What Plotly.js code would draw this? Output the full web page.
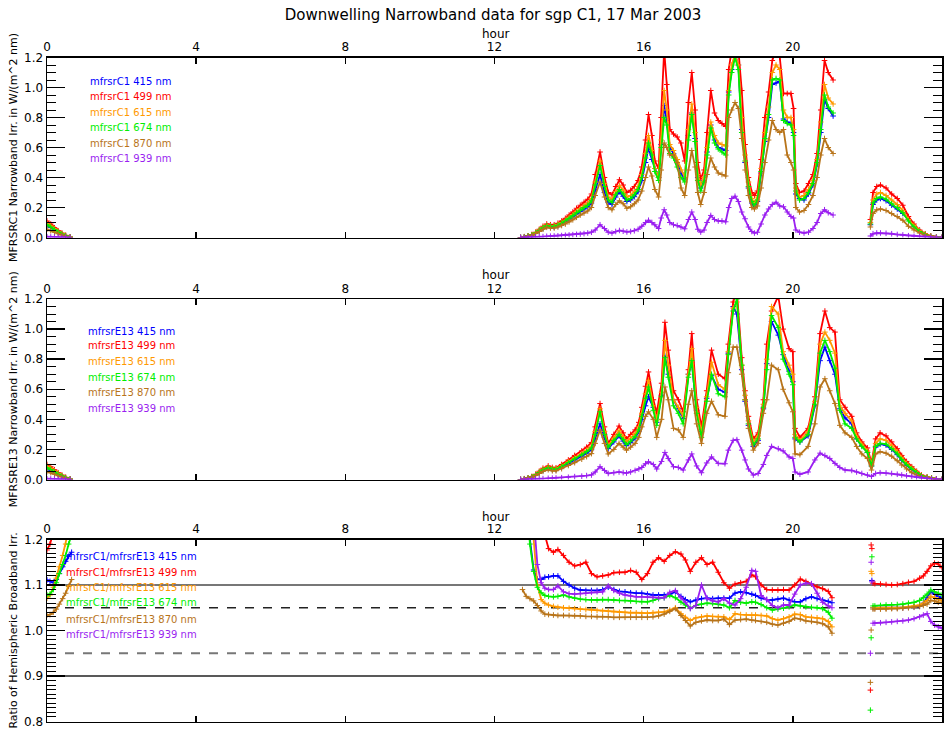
<!DOCTYPE html>
<html>
<head>
<meta charset="utf-8">
<script src="https://cdn.plot.ly/plotly-3.0.1.min.js"></script>
<style>html,body{margin:0;padding:0;background:#fff;}#chart{width:947px;height:730px;}</style>
</head>
<body>
<div id="chart"></div>
<script>
// ---------------- DATA ----------------
const wavelengths = ['415', '499', '615', '674', '870', '939'];
const seriesColors = ['#0000ff', '#ff0000', '#ff9900', '#00ee00', '#b8741a', '#9a1ff0'];
const xTicks = [0, 4, 8, 12, 16, 20, 24];
const refLevels = [1.1, 1.05, 0.95, 0.9];

// Panel 1: MFRSR C1 narrowband irradiance (segments separated by null)
const hoursC1 = [
  0.0, 0.1, 0.2, 0.3, 0.4, 0.5, 0.62, null,
  12.7, 12.8, 12.9, 13.0, 13.1, 13.2, 13.3, 13.4, 13.5, 13.6,
  13.7, 13.8, 13.9, 14.0, 14.1, 14.2, 14.3, 14.4, 14.5, 14.6,
  14.7, 14.83, 14.95, 15.05, 15.15, 15.25, 15.35, 15.45, 15.55, 15.65,
  15.75, 15.85, 15.95, 16.05, 16.13, 16.22, 16.3, 16.4, 16.47, 16.55,
  16.62, 16.7, 16.8, 16.9, 17.0, 17.1, 17.2, 17.29, 17.38, 17.45,
  17.53, 17.62, 17.7, 17.8, 17.9, 18.0, 18.1, 18.2, 18.28, 18.36,
  18.45, 18.54, 18.63, 18.72, 18.81, 18.9, 18.97, 19.05, 19.15, 19.25,
  19.35, 19.45, 19.55, 19.65, 19.75, 19.85, 19.95, 20.02, 20.08, 20.18,
  20.3, 20.42, 20.54, 20.65, 20.75, 20.85, 20.95, 21.08, null,
  22.08, 22.15, 22.25, 22.35, 22.5, 22.65, 22.8, 22.95, 23.1, 23.25, 23.4, 23.55, 23.7, 23.85, 24.0
];
const c1_415 = [
  0.08, 0.066, 0.05, 0.034, 0.022, 0.011, 0.002, null,
  0, 0.004, 0.008, 0.016, 0.028, 0.045, 0.06, 0.075, 0.07, 0.07,
  0.078, 0.09, 0.105, 0.122, 0.138, 0.158, 0.175, 0.19, 0.205, 0.23,
  0.32, 0.42, 0.3, 0.235, 0.22, 0.27, 0.305, 0.275, 0.24, 0.25,
  0.272, 0.305, 0.38, 0.5, 0.6, 0.52, 0.46, 0.4, 0.62, 0.88,
  0.78, 0.6, 0.56, 0.5, 0.43, 0.39, 0.68, 0.83, 0.66, 0.4,
  0.33, 0.38, 0.57, 0.75, 0.65, 0.6, 0.59, 0.58, 0.97, 1.12,
  1.22, 1.15, 0.72, 0.5, 0.33, 0.23, 0.2, 0.24, 0.43, 0.64,
  0.8, 1.02, 1.03, 1.04, 0.79, 0.77, 0.76, 0.7, 0.29, 0.26,
  0.25, 0.29, 0.35, 0.49, 0.7, 0.92, 0.86, 0.81, null,
  0.085, 0.22, 0.25, 0.26, 0.245, 0.215, 0.19, 0.16, 0.12, 0.075, 0.043, 0.02, 0.007, 0.002, 0
];
const c1_499 = [
  0.11, 0.09, 0.065, 0.045, 0.03, 0.015, 0.003, null,
  0, 0.005, 0.01, 0.02, 0.035, 0.055, 0.075, 0.09, 0.085, 0.085,
  0.095, 0.11, 0.128, 0.15, 0.17, 0.195, 0.215, 0.235, 0.255, 0.29,
  0.42, 0.57, 0.4, 0.3, 0.285, 0.34, 0.385, 0.35, 0.3, 0.315,
  0.34, 0.38, 0.47, 0.65, 0.82, 0.68, 0.51, 0.46, 0.8, 1.25,
  1.02, 0.72, 0.69, 0.67, 0.63, 0.51, 0.9, 1.1, 0.85, 0.5,
  0.39, 0.45, 0.7, 0.98, 0.83, 0.78, 0.76, 0.74, 1.12, 1.25,
  1.3, 1.25, 0.98, 0.62, 0.4, 0.3, 0.28, 0.31, 0.52, 0.8,
  0.97, 1.18, 1.25, 1.2, 0.96, 0.96, 0.96, 0.86, 0.36, 0.3,
  0.31, 0.36, 0.42, 0.56, 0.85, 1.18, 1.1, 1.05, null,
  0.12, 0.3, 0.34, 0.35, 0.33, 0.29, 0.26, 0.215, 0.14, 0.09, 0.05, 0.025, 0.01, 0.003, 0
];
const c1_615 = [
  0.095, 0.078, 0.058, 0.04, 0.026, 0.013, 0.003, null,
  0, 0.005, 0.01, 0.018, 0.032, 0.05, 0.068, 0.082, 0.078, 0.078,
  0.087, 0.1, 0.115, 0.135, 0.153, 0.175, 0.193, 0.21, 0.228, 0.26,
  0.37, 0.51, 0.36, 0.27, 0.255, 0.305, 0.345, 0.315, 0.27, 0.28,
  0.305, 0.34, 0.42, 0.56, 0.68, 0.58, 0.46, 0.4, 0.65, 0.98,
  0.85, 0.62, 0.58, 0.52, 0.45, 0.4, 0.72, 0.89, 0.7, 0.42,
  0.35, 0.4, 0.6, 0.77, 0.68, 0.63, 0.62, 0.61, 0.98, 1.15,
  1.22, 1.15, 0.8, 0.55, 0.37, 0.26, 0.23, 0.27, 0.46, 0.7,
  0.87, 1.1, 1.15, 1.12, 0.85, 0.8, 0.8, 0.72, 0.33, 0.27,
  0.28, 0.32, 0.38, 0.52, 0.77, 1.02, 0.93, 0.89, null,
  0.1, 0.25, 0.29, 0.3, 0.28, 0.25, 0.22, 0.18, 0.12, 0.08, 0.045, 0.022, 0.008, 0.002, 0
];
const c1_674 = [
  0.085, 0.07, 0.052, 0.036, 0.023, 0.012, 0.002, null,
  0, 0.005, 0.01, 0.017, 0.03, 0.048, 0.065, 0.078, 0.074, 0.074,
  0.082, 0.095, 0.11, 0.128, 0.145, 0.165, 0.182, 0.2, 0.215, 0.245,
  0.35, 0.48, 0.34, 0.25, 0.235, 0.285, 0.32, 0.29, 0.25, 0.26,
  0.285, 0.32, 0.4, 0.53, 0.63, 0.55, 0.44, 0.38, 0.6, 0.8,
  0.75, 0.56, 0.53, 0.47, 0.4, 0.37, 0.65, 0.82, 0.64, 0.38,
  0.31, 0.37, 0.55, 0.73, 0.63, 0.59, 0.57, 0.55, 0.95, 1.1,
  1.2, 1.12, 0.7, 0.51, 0.34, 0.24, 0.21, 0.25, 0.44, 0.66,
  0.82, 1.05, 1.06, 1.05, 0.78, 0.76, 0.75, 0.68, 0.31, 0.25,
  0.26, 0.3, 0.36, 0.5, 0.72, 0.95, 0.87, 0.83, null,
  0.09, 0.23, 0.26, 0.27, 0.255, 0.225, 0.2, 0.165, 0.11, 0.07, 0.04, 0.02, 0.007, 0.002, 0
];
const c1_870 = [
  0.055, 0.045, 0.035, 0.025, 0.016, 0.008, 0.001, null,
  0, 0.004, 0.008, 0.015, 0.026, 0.04, 0.055, 0.068, 0.063, 0.063,
  0.07, 0.08, 0.09, 0.104, 0.118, 0.135, 0.15, 0.163, 0.177, 0.2,
  0.28, 0.37, 0.27, 0.2, 0.185, 0.22, 0.245, 0.225, 0.195, 0.205,
  0.225, 0.25, 0.31, 0.4, 0.47, 0.41, 0.32, 0.27, 0.45, 0.63,
  0.6, 0.55, 0.55, 0.5, 0.33, 0.28, 0.45, 0.58, 0.47, 0.3,
  0.22, 0.3, 0.42, 0.53, 0.47, 0.43, 0.42, 0.41, 0.8, 0.85,
  0.9, 0.86, 0.66, 0.45, 0.28, 0.2, 0.19, 0.21, 0.33, 0.5,
  0.65, 0.78, 0.72, 0.7, 0.72, 0.55, 0.5, 0.45, 0.2, 0.17,
  0.18, 0.22, 0.28, 0.4, 0.55, 0.66, 0.6, 0.56, null,
  0.07, 0.16, 0.185, 0.19, 0.18, 0.16, 0.14, 0.115, 0.075, 0.05, 0.03, 0.014, 0.005, 0.001, 0
];
const c1_939 = [
  0.005, 0.004, 0.003, 0.002, 0.001, 0, 0, null,
  0, 0, 0.001, 0.002, 0.003, 0.005, 0.006, 0.008, 0.009, 0.01,
  0.011, 0.013, 0.015, 0.017, 0.019, 0.021, 0.023, 0.026, 0.03, 0.035,
  0.05, 0.085, 0.06, 0.035, 0.03, 0.04, 0.047, 0.042, 0.037, 0.04,
  0.045, 0.055, 0.075, 0.1, 0.115, 0.1, 0.085, 0.06, 0.13, 0.185,
  0.15, 0.1, 0.085, 0.08, 0.07, 0.058, 0.12, 0.17, 0.12, 0.055,
  0.036, 0.05, 0.1, 0.147, 0.12, 0.11, 0.11, 0.105, 0.2, 0.26,
  0.275, 0.24, 0.17, 0.125, 0.07, 0.04, 0.03, 0.035, 0.09, 0.15,
  0.19, 0.22, 0.235, 0.21, 0.205, 0.17, 0.14, 0.13, 0.05, 0.035,
  0.03, 0.035, 0.06, 0.1, 0.16, 0.185, 0.165, 0.15, null,
  0.01, 0.025, 0.03, 0.03, 0.028, 0.025, 0.02, 0.017, 0.012, 0.008, 0.005, 0.003, 0.001, 0, 0
];

// Panel 2: MFRSR E13 narrowband irradiance
const hoursE13 = [
  0.0, 0.1, 0.2, 0.3, 0.4, 0.5, 0.62, null,
  12.7, 12.8, 12.9, 13.0, 13.1, 13.2, 13.3, 13.44, 13.55, 13.65,
  13.8, 13.98, 14.15, 14.34, 14.47, 14.6, 14.7, 14.83, 14.95, 15.05,
  15.2, 15.34, 15.45, 15.54, 15.65, 15.77, 15.87, 15.95, 16.05, 16.13,
  16.26, 16.35, 16.48, 16.57, 16.66, 16.8, 16.93, 17.06, 17.2, 17.29,
  17.42, 17.55, 17.69, 17.82, 18.0, 18.18, 18.27, 18.4, 18.5, 18.63,
  18.72, 18.81, 18.94, 19.07, 19.21, 19.3, 19.43, 19.61, 19.74, 19.9,
  20.0, 20.06, 20.19, 20.41, 20.59, 20.73, 20.86, 20.99, 21.13, 21.26,
  21.4, 21.58, 21.71, 21.85, 22.0, 22.11, 22.22, 22.34, 22.5, 22.65,
  22.8, 22.92, 23.05, 23.19, 23.32, 23.45, 23.6, 23.72, 23.85, 24.0
];
const e13_415 = [
  0.074, 0.062, 0.047, 0.033, 0.022, 0.011, 0.002, null,
  0, 0.004, 0.008, 0.016, 0.028, 0.045, 0.06, 0.074, 0.066, 0.065,
  0.082, 0.106, 0.13, 0.155, 0.175, 0.198, 0.27, 0.37, 0.28, 0.205,
  0.25, 0.29, 0.255, 0.225, 0.245, 0.275, 0.32, 0.4, 0.49, 0.55,
  0.48, 0.38, 0.56, 0.82, 0.7, 0.53, 0.47, 0.405, 0.7, 0.78,
  0.46, 0.32, 0.54, 0.69, 0.6, 0.58, 0.84, 1.15, 1.1, 0.73,
  0.52, 0.36, 0.22, 0.26, 0.47, 0.77, 1.05, 0.96, 0.83, 0.72,
  0.65, 0.27, 0.25, 0.29, 0.49, 0.79, 0.88, 0.79, 0.7, 0.47,
  0.41, 0.37, 0.27, 0.225, 0.18, 0.09, 0.215, 0.235, 0.228, 0.2,
  0.165, 0.128, 0.095, 0.067, 0.043, 0.024, 0.013, 0.008, 0.003, 0
];
const e13_499 = [
  0.1, 0.085, 0.065, 0.045, 0.03, 0.015, 0.003, null,
  0, 0.005, 0.01, 0.02, 0.035, 0.055, 0.075, 0.09, 0.08, 0.078,
  0.1, 0.13, 0.16, 0.19, 0.215, 0.245, 0.35, 0.505, 0.35, 0.24,
  0.3, 0.355, 0.31, 0.27, 0.3, 0.33, 0.38, 0.48, 0.62, 0.715,
  0.53, 0.44, 0.64, 1.045, 0.86, 0.59, 0.53, 0.45, 0.73, 0.97,
  0.53, 0.35, 0.59, 0.86, 0.7, 0.67, 0.9, 1.18, 1.25, 0.81,
  0.59, 0.42, 0.27, 0.31, 0.53, 0.9, 1.12, 1.22, 1.0, 0.87,
  0.85, 0.34, 0.28, 0.34, 0.55, 0.97, 1.12, 1.01, 0.98, 0.53,
  0.48, 0.42, 0.31, 0.25, 0.21, 0.11, 0.27, 0.31, 0.29, 0.25,
  0.205, 0.16, 0.12, 0.085, 0.055, 0.03, 0.017, 0.01, 0.004, 0
];
const e13_615 = [
  0.088, 0.075, 0.057, 0.04, 0.026, 0.013, 0.003, null,
  0, 0.005, 0.009, 0.018, 0.032, 0.05, 0.068, 0.082, 0.073, 0.072,
  0.09, 0.118, 0.145, 0.172, 0.195, 0.222, 0.32, 0.47, 0.32, 0.225,
  0.275, 0.325, 0.285, 0.25, 0.275, 0.305, 0.35, 0.44, 0.57, 0.66,
  0.49, 0.39, 0.58, 0.925, 0.76, 0.53, 0.48, 0.42, 0.7, 0.87,
  0.48, 0.31, 0.55, 0.78, 0.63, 0.6, 0.85, 1.14, 1.18, 0.76,
  0.56, 0.39, 0.25, 0.29, 0.5, 0.8, 1.15, 1.1, 0.85, 0.76,
  0.7, 0.3, 0.26, 0.32, 0.52, 0.9, 0.98, 0.925, 0.84, 0.49,
  0.44, 0.39, 0.29, 0.235, 0.19, 0.1, 0.24, 0.27, 0.26, 0.225,
  0.185, 0.145, 0.108, 0.076, 0.05, 0.027, 0.015, 0.009, 0.004, 0
];
const e13_674 = [
  0.078, 0.066, 0.05, 0.035, 0.023, 0.012, 0.002, null,
  0, 0.004, 0.009, 0.017, 0.03, 0.047, 0.064, 0.078, 0.07, 0.068,
  0.086, 0.112, 0.137, 0.163, 0.185, 0.21, 0.3, 0.45, 0.3, 0.215,
  0.26, 0.3, 0.265, 0.232, 0.255, 0.285, 0.33, 0.42, 0.54, 0.615,
  0.46, 0.36, 0.55, 0.81, 0.68, 0.49, 0.44, 0.37, 0.68, 0.79,
  0.44, 0.28, 0.52, 0.7, 0.57, 0.55, 0.83, 1.12, 1.2, 0.76,
  0.53, 0.37, 0.23, 0.27, 0.48, 0.73, 1.09, 1.01, 0.8, 0.7,
  0.63, 0.28, 0.25, 0.3, 0.5, 0.84, 0.925, 0.85, 0.74, 0.46,
  0.37, 0.34, 0.27, 0.22, 0.18, 0.09, 0.22, 0.24, 0.235, 0.205,
  0.17, 0.132, 0.098, 0.07, 0.045, 0.025, 0.014, 0.008, 0.003, 0
];
const e13_870 = [
  0.052, 0.045, 0.035, 0.025, 0.016, 0.008, 0.001, null,
  0, 0.004, 0.008, 0.015, 0.026, 0.04, 0.054, 0.065, 0.058, 0.058,
  0.072, 0.093, 0.112, 0.135, 0.152, 0.172, 0.24, 0.33, 0.24, 0.17,
  0.2, 0.24, 0.215, 0.195, 0.215, 0.24, 0.28, 0.35, 0.42, 0.45,
  0.4, 0.28, 0.4, 0.615, 0.53, 0.34, 0.33, 0.28, 0.5, 0.59,
  0.37, 0.24, 0.44, 0.52, 0.43, 0.42, 0.71, 0.88, 0.88, 0.7,
  0.53, 0.34, 0.195, 0.24, 0.44, 0.53, 0.76, 0.73, 0.6, 0.51,
  0.45, 0.17, 0.165, 0.22, 0.37, 0.615, 0.67, 0.59, 0.505, 0.36,
  0.31, 0.28, 0.22, 0.17, 0.14, 0.063, 0.17, 0.185, 0.175, 0.155,
  0.125, 0.096, 0.07, 0.045, 0.03, 0.017, 0.01, 0.005, 0.002, 0
];
const e13_939 = [
  0.005, 0.004, 0.003, 0.002, 0.001, 0, 0, null,
  0, 0, 0.001, 0.002, 0.003, 0.005, 0.006, 0.008, 0.009, 0.01,
  0.012, 0.015, 0.019, 0.022, 0.026, 0.03, 0.05, 0.085, 0.06, 0.04,
  0.045, 0.05, 0.046, 0.043, 0.05, 0.06, 0.07, 0.08, 0.105, 0.118,
  0.1, 0.07, 0.12, 0.18, 0.14, 0.085, 0.08, 0.063, 0.13, 0.17,
  0.09, 0.045, 0.11, 0.15, 0.107, 0.105, 0.195, 0.26, 0.265, 0.195,
  0.13, 0.07, 0.03, 0.04, 0.1, 0.16, 0.22, 0.205, 0.19, 0.15,
  0.14, 0.05, 0.035, 0.05, 0.13, 0.175, 0.16, 0.14, 0.107, 0.08,
  0.063, 0.06, 0.05, 0.04, 0.03, 0.02, 0.04, 0.045, 0.043, 0.04,
  0.035, 0.03, 0.025, 0.02, 0.015, 0.01, 0.006, 0.004, 0.002, 0
];

// Panel 3: ratio C1 / E13
const hoursRatio = [
  0.0, 0.08, 0.17, 0.25, 0.33, 0.42, 0.5, 0.58, 0.66, null,
  12.75, 12.85, 12.95, 13.05, 13.15, 13.25, 13.35, 13.45, 13.58, 13.7,
  13.85, 14.0, 14.15, 14.3, 14.45, 14.6, 14.75, 14.9, 15.05, 15.2,
  15.35, 15.5, 15.65, 15.8, 15.95, 16.1, 16.25, 16.4, 16.55, 16.7,
  16.85, 17.0, 17.12, 17.25, 17.4, 17.55, 17.7, 17.85, 18.0, 18.15,
  18.3, 18.45, 18.6, 18.75, 18.9, 19.0, 19.15, 19.3, 19.45, 19.6,
  19.75, 19.9, 20.05, 20.2, 20.35, 20.5, 20.65, 20.8, 20.95, 21.05, null,
  22.08, 22.09, 22.1, 22.11, 22.12, 22.13, 22.15, 22.2, 22.35, 22.5, 22.65,
  22.8, 22.95, 23.1, 23.25, 23.4, 23.5, 23.6, 23.7, 23.8, 23.9, 24.0
];
const ratio_415 = [
  1.111, 1.108, 1.105, 1.112, 1.125, 1.14, 1.152, 1.163, 1.172, null,
  1.4, 1.3, 1.2, 1.133, 1.113, 1.112, 1.117, 1.118, 1.12, 1.12,
  1.108, 1.1, 1.093, 1.089, 1.088, 1.088, 1.088, 1.09, 1.095, 1.09,
  1.086, 1.085, 1.083, 1.082, 1.082, 1.08, 1.078, 1.078, 1.078, 1.08,
  1.085, 1.075, 1.068, 1.063, 1.067, 1.07, 1.071, 1.07, 1.071, 1.071,
  1.071, 1.082, 1.085, 1.083, 1.08, 1.077, 1.071, 1.068, 1.067, 1.069,
  1.071, 1.067, 1.063, 1.063, 1.07, 1.074, 1.07, 1.067, 1.064, 1.061, null,
  null, null, null, null, 1.11, null, 1.05, 1.05, 1.05, 1.05, 1.049,
  1.05, 1.05, 1.051, 1.052, 1.053, 1.06, 1.072, 1.085, 1.08, 1.075, 1.07
];
const ratio_499 = [
  1.177, 1.19, 1.215, 1.25, 1.3, 1.35, 1.4, 1.45, 1.5, null,
  1.5, 1.45, 1.4, 1.35, 1.3, 1.25, 1.21, 1.18, 1.172, 1.178,
  1.165, 1.15, 1.142, 1.145, 1.15, 1.125, 1.118, 1.12, 1.122, 1.127,
  1.128, 1.128, 1.132, 1.128, 1.112, 1.125, 1.15, 1.16, 1.152, 1.165,
  1.173, 1.168, 1.155, 1.13, 1.15, 1.16, 1.145, 1.15, 1.128, 1.105,
  1.093, 1.102, 1.105, 1.108, 1.122, 1.118, 1.1, 1.09, 1.089, 1.089,
  1.09, 1.089, 1.1, 1.113, 1.108, 1.102, 1.096, 1.092, 1.086, 1.072, null,
  0.869, null, 1.188, null, 1.18, null, 1.104, 1.103, 1.102, 1.101, 1.1,
  1.101, 1.103, 1.106, 1.108, 1.115, 1.12, 1.13, 1.142, 1.148, 1.146, 1.138
];
const ratio_615 = [
  1.071, 1.078, 1.095, 1.115, 1.14, 1.165, 1.19, 1.22, 1.25, null,
  1.4, 1.33, 1.26, 1.2, 1.1, 1.068, 1.06, 1.056, 1.053, 1.051,
  1.05, 1.049, 1.048, 1.047, 1.046, 1.045, 1.044, 1.043, 1.042, 1.041,
  1.04, 1.04, 1.039, 1.039, 1.038, 1.038, 1.039, 1.04, 1.041, 1.045,
  1.05, 1.037, 1.029, 1.022, 1.028, 1.03, 1.032, 1.031, 1.03, 1.03,
  1.024, 1.037, 1.035, 1.034, 1.034, 1.034, 1.033, 1.032, 1.026, 1.023,
  1.026, 1.03, 1.036, 1.035, 1.03, 1.029, 1.028, 1.026, 1.02, 1.008, null,
  null, null, 1.13, null, 1.125, null, 1.05, 1.05, 1.049, 1.049, 1.049,
  1.05, 1.051, 1.052, 1.054, 1.056, 1.06, 1.066, 1.075, 1.072, 1.068, 1.065
];
const ratio_674 = [
  1.078, 1.08, 1.09, 1.105, 1.125, 1.145, 1.165, 1.19, 1.21, null,
  1.4, 1.3, 1.19, 1.13, 1.095, 1.083, 1.077, 1.075, 1.074, 1.075,
  1.078, 1.074, 1.071, 1.069, 1.068, 1.067, 1.067, 1.068, 1.068, 1.067,
  1.066, 1.066, 1.065, 1.064, 1.063, 1.063, 1.066, 1.07, 1.072, 1.077,
  1.072, 1.062, 1.056, 1.049, 1.055, 1.058, 1.06, 1.059, 1.058, 1.056,
  1.05, 1.066, 1.062, 1.06, 1.063, 1.062, 1.057, 1.05, 1.045, 1.047,
  1.049, 1.052, 1.056, 1.054, 1.052, 1.051, 1.05, 1.048, 1.04, 1.027, null,
  0.825, null, 0.984, null, 1.162, null, 1.054, 1.054, 1.055, 1.056, 1.056,
  1.057, 1.058, 1.06, 1.062, 1.066, 1.072, 1.08, 1.089, 1.085, 1.082, 1.078
];
const ratio_870 = [
  1.034, 1.035, 1.04, 1.047, 1.058, 1.07, 1.082, 1.097, 1.112, null,
  1.09, 1.075, 1.07, 1.065, 1.055, 1.043, 1.036, 1.035, 1.034, 1.033,
  1.033, 1.033, 1.032, 1.032, 1.031, 1.031, 1.03, 1.03, 1.03, 1.029,
  1.029, 1.029, 1.029, 1.029, 1.029, 1.029, 1.03, 1.032, 1.036, 1.042,
  1.048, 1.033, 1.022, 1.01, 1.018, 1.021, 1.023, 1.022, 1.022, 1.025,
  1.013, 1.023, 1.024, 1.025, 1.023, 1.022, 1.02, 1.018, 1.014, 1.012,
  1.016, 1.02, 1.027, 1.025, 1.021, 1.02, 1.018, 1.015, 1.008, 0.994, null,
  0.886, null, 1.001, null, null, null, 1.047, 1.047, 1.047, 1.047, 1.048,
  1.048, 1.049, 1.05, 1.051, 1.053, 1.055, 1.058, 1.066, 1.065, 1.062, 1.06
];
const ratio_939 = [
  null, null, null, null, null, null, null, null, null, null,
  1.5, 1.45, 1.38, 1.25, 1.145, 1.105, 1.093, 1.09, 1.09, 1.098,
  1.085, 1.081, 1.08, 1.081, 1.082, 1.084, 1.085, 1.085, 1.098, 1.088,
  1.082, 1.078, 1.076, 1.074, 1.074, 1.074, 1.073, 1.072, 1.072, 1.084,
  1.088, 1.072, 1.062, 1.048, 1.055, 1.1, 1.07, 1.065, 1.063, 1.07,
  1.06, 1.056, 1.07, 1.095, 1.132, 1.13, 1.077, 1.068, 1.055, 1.05,
  1.056, 1.056, 1.08, 1.1, 1.104, 1.103, 1.082, 1.062, 1.054, 1.05, null,
  0.95, null, 1.15, null, 1.107, null, 1.016, 1.016, 1.017, 1.018, 1.019,
  1.02, 1.021, 1.023, 1.026, 1.03, 1.034, 1.037, 1.02, 1.012, 1.008, 1.005
];

// ---------------- BUILD ----------------
const panels = [
  { x: hoursC1, ys: [c1_415, c1_499, c1_615, c1_674, c1_870, c1_939], xa: 'x', ya: 'y',
    label: w => 'mfrsrC1 ' + w + ' nm' },
  { x: hoursE13, ys: [e13_415, e13_499, e13_615, e13_674, e13_870, e13_939], xa: 'x2', ya: 'y2',
    label: w => 'mfrsrE13 ' + w + ' nm' },
  { x: hoursRatio, ys: [ratio_415, ratio_499, ratio_615, ratio_674, ratio_870, ratio_939], xa: 'x3', ya: 'y3',
    label: w => 'mfrsrC1/mfrsrE13 ' + w + ' nm' }
];

const traces = [];
panels.forEach(p => {
  p.ys.forEach((y, i) => {
    traces.push({
      type: 'scatter', mode: 'lines+markers', x: p.x, y: y,
      xaxis: p.xa, yaxis: p.ya, connectgaps: false, hoverinfo: 'skip',
      line: { color: seriesColors[i], width: 1.8 },
      marker: { symbol: 'cross-thin', size: 4, color: seriesColors[i], line: { color: seriesColors[i], width: 1 } }
    });
  });
});

// layout geometry (pixels -> paper fractions)
const H = 730, PL = 47, PW = 895;
const py = v => 1 - v / H;
const px = v => (v - PL) / PW;

function xax(anchor) {
  return {
    domain: [0, 1], range: [0, 24], anchor: anchor, side: 'top',
    tickmode: 'array', tickvals: xTicks, ticktext: xTicks.map(String),
    ticks: 'inside', ticklen: 6, tickwidth: 1.5, tickcolor: '#000',
    mirror: 'ticks', showline: true, linecolor: '#000', linewidth: 1.5,
    showgrid: false, zeroline: false, tickfont: { size: 12 },
    title: { text: '' }
  };
}
function yax(domain, range, dtick, minorDtick, title) {
  return {
    domain: domain, range: range, tickmode: 'linear', tick0: 0, dtick: dtick, tickformat: '.1f',
    ticks: 'inside', ticklen: 18, tickwidth: 1.5, tickcolor: '#000',
    minor: { ticks: 'inside', ticklen: 9, dtick: minorDtick, tick0: 0, tickwidth: 1, tickcolor: '#000', showgrid: false },
    mirror: 'ticks', showline: true, linecolor: '#000', linewidth: 1.5,
    showgrid: false, zeroline: false, tickfont: { size: 12 },
    title: { text: title, standoff: 4, font: { size: 11 } }
  };
}

const annotations = [];
const legendPos = [
  { x: 88, y: [81, 97, 112, 128, 143, 159] },
  { x: 86, y: [331, 346, 361, 377, 392, 408] },
  { x: 64, y: [556, 572, 587, 602, 619, 634] }
];
panels.forEach((p, k) => {
  wavelengths.forEach((w, i) => {
    annotations.push({
      xref: 'paper', yref: 'paper', x: px(legendPos[k].x), y: py(legendPos[k].y[i]),
      xanchor: 'left', yanchor: 'middle', showarrow: false, text: p.label(w),
      font: { size: 10, color: seriesColors[i] }
    });
  });
});
// "hour" axis titles above each top axis
[34, 275, 517].forEach(yy => {
  annotations.push({
    xref: 'paper', yref: 'paper', x: px(496), y: py(yy), xanchor: 'center', yanchor: 'middle',
    showarrow: false, text: 'hour', font: { size: 12, color: '#000' }
  });
});

const refStyles = [
  { color: '#777', width: 2, dash: 'solid' },
  { color: '#222', width: 1.3, dash: 'dash' },
  { color: '#777', width: 1.8, dash: 'dash' },
  { color: '#222', width: 1.3, dash: 'solid' }
];
const shapes = refLevels.map((lv, i) => ({
  type: 'line', xref: 'paper', yref: 'y3', x0: 0, x1: 1, y0: lv, y1: lv,
  line: refStyles[i], layer: 'below'
}));

const layout = {
  width: 947, height: 730,
  margin: { l: 47, r: 5, t: 0, b: 0 },
  paper_bgcolor: '#fff', plot_bgcolor: '#fff', showlegend: false,
  font: { family: 'DejaVu Sans, sans-serif', size: 12, color: '#000' },
  title: { text: 'Downwelling Narrowband data for sgp C1, 17 Mar 2003',
           x: 0.5206, xanchor: 'center', xref: 'container', y: 1 - 15 / H, yanchor: 'middle', yref: 'container',
           font: { size: 15, color: '#000' } },
  xaxis: xax('y'), xaxis2: xax('y2'), xaxis3: xax('y3'),
  yaxis: yax([py(237.5), py(57.5)], [0, 1.2], 0.2, 0.05, 'MFRSRC1 Narrowband Irr. in W/(m^2 nm)'),
  yaxis2: yax([py(479.5), py(299)], [0, 1.2], 0.2, 0.05, 'MFRSRE13 Narrowband Irr. in W/(m^2 nm)'),
  yaxis3: yax([py(721.5), py(539.5)], [0.8, 1.2], 0.1, 0.01, 'Ratio of Hemispheric Broadband Irr.'),
  annotations: annotations, shapes: shapes
};

Plotly.newPlot('chart', traces, layout, { displayModeBar: false, staticPlot: true });
</script>
</body>
</html>
